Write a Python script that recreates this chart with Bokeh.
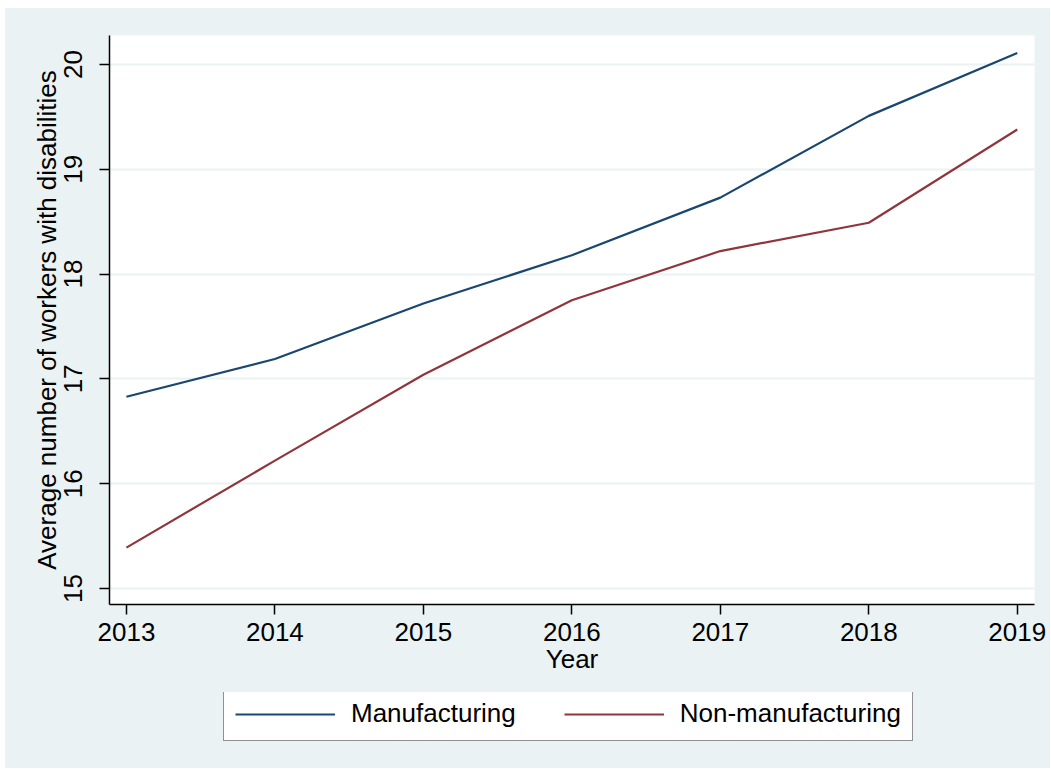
from bokeh.plotting import figure
from bokeh.layouts import column
from bokeh.models import FixedTicker, Range1d, Legend, LegendItem
from bokeh.embed import file_html
from bokeh.resources import INLINE

years = [2013, 2014, 2015, 2016, 2017, 2018, 2019]
manufacturing = [16.83, 17.19, 17.72, 18.18, 18.73, 19.51, 20.11]
non_manufacturing = [15.39, 16.22, 17.04, 17.75, 18.22, 18.49, 19.38]
y_ticks = [15, 16, 17, 18, 19, 20]
series_names = ["Manufacturing", "Non-manufacturing"]

BG = "#EAF2F3"
NAVY = "#1A476F"
MAROON = "#90353B"
FONT = "Liberation Sans"

p = figure(
    frame_width=925, frame_height=569,
    min_border_left=104, min_border_right=16, min_border_top=27, min_border_bottom=88,
    x_range=Range1d(2012.886, 2019.116), y_range=Range1d(14.847, 20.277),
    output_backend="svg", toolbar_location=None,
)
p.border_fill_color = BG
p.background_fill_color = "white"
p.outline_line_color = None

r1 = p.line(years, manufacturing, line_color=NAVY, line_width=2.2)
r2 = p.line(years, non_manufacturing, line_color=MAROON, line_width=2.2)

# grid
p.xgrid.grid_line_color = None
p.ygrid.grid_line_color = BG
p.ygrid.grid_line_width = 2
p.ygrid.ticker = FixedTicker(ticks=y_ticks)

# x axis
xa = p.xaxis[0]
xa.ticker = FixedTicker(ticks=years)
xa.axis_label = "Year"
xa.axis_label_text_font = FONT
xa.axis_label_text_font_size = "26px"
xa.axis_label_text_font_style = "normal"
xa.axis_label_text_color = "black"
xa.axis_label_standoff = 0
xa.major_label_text_font = FONT
xa.major_label_text_font_size = "26px"
xa.major_label_text_color = "black"
xa.major_label_standoff = 8
xa.axis_line_color = "black"
xa.axis_line_width = 1.5
xa.major_tick_line_color = "black"
xa.major_tick_line_width = 1.5
xa.major_tick_out = 10
xa.major_tick_in = 0
xa.minor_tick_line_color = None

# y axis
ya = p.yaxis[0]
ya.ticker = FixedTicker(ticks=y_ticks)
ya.axis_label = "Average number of workers with disabilities"
ya.axis_label_text_font = FONT
ya.axis_label_text_font_size = "26px"
ya.axis_label_text_font_style = "normal"
ya.axis_label_text_color = "black"
ya.axis_label_standoff = 0
ya.major_label_text_font = FONT
ya.major_label_text_font_size = "26px"
ya.major_label_text_color = "black"
ya.major_label_orientation = "vertical"
ya.major_label_standoff = 17
ya.axis_line_color = "black"
ya.axis_line_width = 1.5
ya.major_tick_line_color = "black"
ya.major_tick_line_width = 1.5
ya.major_tick_out = 10
ya.major_tick_in = 0
ya.minor_tick_line_color = None

# legend strip below the chart (same background), holding the legend
p2 = figure(
    width=1045, height=76,
    min_border_left=0, min_border_right=0, min_border_top=0, min_border_bottom=0,
    x_range=Range1d(0, 1), y_range=Range1d(0, 1),
    output_backend="svg", toolbar_location=None,
)
p2.axis.visible = False
p2.grid.visible = False
p2.outline_line_color = None
p2.background_fill_color = None
p2.border_fill_color = BG
# legend proxies (same series; lie outside this strip's ranges, so unseen)
l1 = p2.line(years, manufacturing, line_color=NAVY, line_width=2.2)
l2 = p2.line(years, non_manufacturing, line_color=MAROON, line_width=2.2)

legend = Legend(
    items=[LegendItem(label=series_names[0], renderers=[l1]),
           LegendItem(label=series_names[1], renderers=[l2])],
    orientation="horizontal",
    location=(114, 27),
    glyph_width=100, glyph_height=28,
    label_text_font=FONT, label_text_font_size="26px", label_text_color="black",
    label_standoff=16, spacing=48, padding=11, margin=0,
    border_line_color="#222222", border_line_width=1.5,
    background_fill_color="white", background_fill_alpha=1,
)
p2.add_layout(legend)

layout = column(p, p2, spacing=0, margin=(8, 0, 0, 5), styles={"background-color": BG})

open("out.html", "w").write(file_html(layout, INLINE))
